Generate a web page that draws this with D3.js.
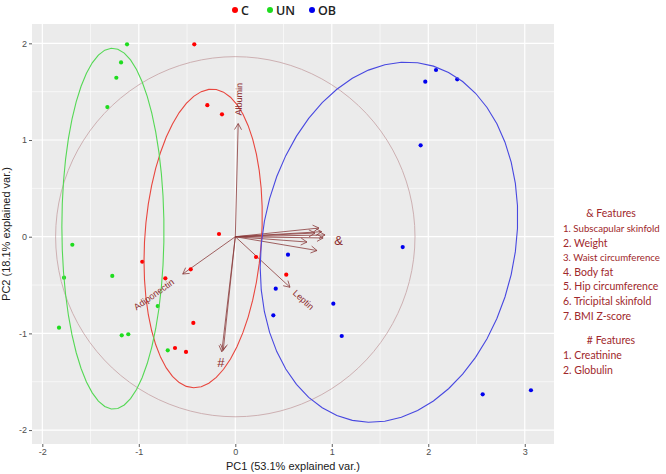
<!DOCTYPE html>
<html>
<head>
<meta charset="utf-8">
<script src="https://cdn.jsdelivr.net/npm/d3@7"></script>
<style>
  html, body { margin: 0; padding: 0; background: #ffffff; }
  svg { display: block; }
</style>
</head>
<body>
<svg id="chart" width="666" height="474"></svg>
<script>
// ---------------- data ----------------
const groups = ["C", "UN", "OB"];
const groupColors = ["#ff0000", "#1edc1e", "#0000ee"];
const ellipseColors = ["#e8463e", "#55d855", "#4848e0"];

const pc1C  = [-0.425, -0.29, -0.138, -0.169, -0.964, -0.725, -0.462, 0.215, -0.435, -0.625, -0.511, 0.528];
const pc2C  = [1.99, 1.36, 1.266, 0.028, -0.259, -0.43, -0.337, -0.21, -0.892, -1.151, -1.192, -0.393];
const pc1UN = [-1.122, -1.184, -1.233, -1.326, -1.689, -1.775, -1.275, -1.827, -1.177, -1.109, -0.804, -0.7];
const pc2UN = [1.99, 1.803, 1.644, 1.341, -0.083, -0.424, -0.406, -0.941, -1.02, -1.009, -0.717, -1.175];
const pc1OB = [2.08, 1.969, 2.30, 1.921, 1.735, 0.546, 0.419, 0.394, 1.016, 1.103, 2.564, 3.064];
const pc2OB = [1.724, 1.603, 1.628, 0.945, -0.107, -0.186, -0.538, -0.813, -0.693, -1.027, -1.63, -1.588];

// variable loadings (arrow tips)
const varNames = ["Albumin", "Adiponectin", "Leptin", "Creatinine", "Globulin",
  "Subscapular skinfold", "Weight", "Waist circumference", "Body fat",
  "Hip circumference", "Tricipital skinfold", "BMI Z-score"];
const varShowName = [true, true, true, false, false, false, false, false, false, false, false, false];
const loadX = [0.03, -0.545, 0.567, -0.14, -0.125, 0.895, 0.93, 0.91, 0.826, 0.743, 0.847, 0.867];
const loadY = [1.17, -0.386, -0.523, -1.19, -1.175, 0.052, 0.018, -0.013, 0.038, -0.055, -0.143, 0.09];

// group markers placed next to grouped arrows (data units)
const markText = ["&", "#"];
const markX = [1.07, -0.15];
const markY = [-0.04, -1.30];

const xTicks = [-2, -1, 0, 1, 2, 3];
const yTicks = [-2, -1, 0, 1, 2];
const xTitle = "PC1 (53.1% explained var.)";
const yTitle = "PC2 (18.1% explained var.)";

const featAmp = ["1. Subscapular skinfold", "2. Weight", "3. Waist circumference", "4. Body fat",
  "5. Hip circumference", "6. Tricipital skinfold", "7. BMI Z-score"];
const featHash = ["1. Creatinine", "2. Globulin"];

const ellipseProb = 0.68;
const circleProb = 0.69;

// ---------------- layout ----------------
const svg = d3.select("#chart");
const P = { left: 32, right: 554, top: 24, bottom: 444 };
const x = d3.scaleLinear().domain([-2.107, 3.303]).range([P.left, P.right]);
const y = d3.scaleLinear().domain([-2.144, 2.2]).range([P.bottom, P.top]);

const groupX = [pc1C, pc1UN, pc1OB];
const groupY = [pc2C, pc2UN, pc2OB];

// panel
svg.append("rect").attr("x", P.left).attr("y", P.top)
  .attr("width", P.right - P.left).attr("height", P.bottom - P.top).attr("fill", "#ebebeb");

svg.append("clipPath").attr("id", "clipP").append("rect")
  .attr("x", P.left).attr("y", P.top).attr("width", P.right - P.left).attr("height", P.bottom - P.top);

const grid = svg.append("g");
const xMinor = [-1.5, -0.5, 0.5, 1.5, 2.5];
const yMinor = [-1.5, -0.5, 0.5, 1.5];
xMinor.forEach(v => grid.append("line").attr("x1", x(v)).attr("x2", x(v)).attr("y1", P.top).attr("y2", P.bottom)
  .attr("stroke", "#fff").attr("stroke-width", 0.6));
yMinor.forEach(v => grid.append("line").attr("y1", y(v)).attr("y2", y(v)).attr("x1", P.left).attr("x2", P.right)
  .attr("stroke", "#fff").attr("stroke-width", 0.6));
xTicks.forEach(v => grid.append("line").attr("x1", x(v)).attr("x2", x(v)).attr("y1", P.top).attr("y2", P.bottom)
  .attr("stroke", "#fff").attr("stroke-width", 1.2));
yTicks.forEach(v => grid.append("line").attr("y1", y(v)).attr("y2", y(v)).attr("x1", P.left).attr("x2", P.right)
  .attr("stroke", "#fff").attr("stroke-width", 1.2));

// axes
const axisFont = "'Liberation Sans', Arial, sans-serif";
const xAxis = svg.append("g").attr("transform", `translate(0,${P.bottom})`)
  .call(d3.axisBottom(x).tickValues(xTicks).tickSize(3).tickPadding(2).tickFormat(d3.format("d")));
const yAxis = svg.append("g").attr("transform", `translate(${P.left},0)`)
  .call(d3.axisLeft(y).tickValues(yTicks).tickSize(3).tickPadding(2).tickFormat(d3.format("d")));
[xAxis, yAxis].forEach(a => {
  a.select(".domain").remove();
  a.selectAll(".tick line").attr("stroke", "#333").attr("stroke-width", 0.8);
  a.selectAll(".tick text").attr("fill", "#4d4d4d").style("font-family", axisFont).style("font-size", "9px")
    .text(d => d < 0 ? "-" + Math.abs(d) : d);
});

svg.append("text").attr("x", (P.left + P.right) / 2).attr("y", 470)
  .attr("text-anchor", "middle").style("font-family", axisFont).style("font-size", "11px")
  .attr("fill", "#1a1a1a").text(xTitle);
svg.append("text").attr("transform", `translate(10,${(P.top + P.bottom) / 2}) rotate(-90)`)
  .attr("text-anchor", "middle").style("font-family", axisFont).style("font-size", "11px")
  .attr("fill", "#1a1a1a").text(yTitle);

const plot = svg.append("g").attr("clip-path", "url(#clipP)");

// correlation circle (ggbiplot style)
const allX = [].concat(...groupX), allY = [].concat(...groupY);
const r = Math.sqrt(-2 * Math.log(1 - circleProb)) *
  Math.pow(d3.mean(allX, v => v * v) * d3.mean(allY, v => v * v), 0.25);
const thetaC = d3.range(0, 101).map(i => -Math.PI + 2 * Math.PI * i / 100);
const line = d3.line().x(d => x(d[0])).y(d => y(d[1]));
plot.append("path").datum(thetaC.map(t => [r * Math.cos(t), r * Math.sin(t)]))
  .attr("d", line).attr("fill", "none").attr("stroke", "#cdb0b2").attr("stroke-width", 1);

// arrows
const arrowCol = "#8b3c3c";
const ox = x(0), oy = y(0);
loadX.forEach((lx, i) => {
  const ex = x(lx), ey = y(loadY[i]);
  plot.append("line").attr("x1", ox).attr("y1", oy).attr("x2", ex).attr("y2", ey)
    .attr("stroke", arrowCol).attr("stroke-width", 1).attr("stroke-opacity", 0.8);
  const ang = Math.atan2(ey - oy, ex - ox);
  const hl = 7, ha = Math.PI / 6;
  const p1 = [ex - hl * Math.cos(ang - ha), ey - hl * Math.sin(ang - ha)];
  const p2 = [ex - hl * Math.cos(ang + ha), ey - hl * Math.sin(ang + ha)];
  plot.append("path").attr("d", `M${p1[0]},${p1[1]}L${ex},${ey}L${p2[0]},${p2[1]}`)
    .attr("fill", "none").attr("stroke", arrowCol).attr("stroke-width", 1).attr("stroke-opacity", 0.8);
});

// points
groups.forEach((g, gi) => {
  plot.selectAll(null).data(groupX[gi].map((v, k) => [v, groupY[gi][k]])).enter()
    .append("circle").attr("cx", d => x(d[0])).attr("cy", d => y(d[1])).attr("r", 2.1)
    .attr("fill", groupColors[gi]);
});

// ellipses (normal data ellipse, ggbiplot style)
const ed = Math.sqrt(-2 * Math.log(1 - ellipseProb));
const thetaE = d3.range(0, 50).map(i => -Math.PI + 2 * Math.PI * i / 49);
groups.forEach((g, gi) => {
  const xs = groupX[gi], ys = groupY[gi];
  const mx = d3.mean(xs), my = d3.mean(ys);
  const n = xs.length;
  const s11 = d3.sum(xs, v => (v - mx) ** 2) / (n - 1);
  const s22 = d3.sum(ys, v => (v - my) ** 2) / (n - 1);
  const s12 = d3.sum(xs.map((v, k) => (v - mx) * (ys[k] - my))) / (n - 1);
  const a = Math.sqrt(s11), b = s12 / a, c = Math.sqrt(s22 - b * b);
  const pts = thetaE.map(t => [Math.cos(t) * a * ed + mx, (Math.cos(t) * b + Math.sin(t) * c) * ed + my]);
  plot.append("path").datum(pts).attr("d", line).attr("fill", "none")
    .attr("stroke", ellipseColors[gi]).attr("stroke-width", 1.1);
});

// variable names (ggbiplot placement)
const labCol = "#8b2a2a";
loadX.forEach((lx, i) => {
  if (!varShowName[i]) return;
  const ly = loadY[i];
  const ang = Math.atan(ly / lx) * 180 / Math.PI;
  const hjust = (1 - 1.5 * Math.sign(lx)) / 2;
  const t = plot.append("text").attr("transform", `translate(${x(lx)},${y(ly)}) rotate(${-ang})`)
    .attr("dy", "0.35em").style("font-family", axisFont).style("font-size", "9px")
    .attr("fill", labCol).text(varNames[i]);
  const w = t.node().getComputedTextLength();
  t.attr("x", -hjust * w);
});

markText.forEach((m, i) => {
  plot.append("text").attr("x", x(markX[i])).attr("y", y(markY[i])).attr("dy", "0.35em")
    .attr("text-anchor", "middle").style("font-family", axisFont).style("font-size", "13px")
    .attr("fill", labCol).text(m);
});

// legend (top)
const legFont = "'Open Sans', 'Liberation Sans', sans-serif";
const legX = [235, 270, 312];
groups.forEach((g, gi) => {
  svg.append("circle").attr("cx", legX[gi]).attr("cy", 10).attr("r", 3).attr("fill", groupColors[gi]);
  svg.append("text").attr("x", legX[gi] + 6).attr("y", 10).attr("dy", "0.36em")
    .style("font-family", legFont).style("font-size", "12.5px").style("font-weight", 600)
    .attr("fill", "#222").text(g);
});

// right annotation
const noteFont = "Lato, 'Open Sans', sans-serif";
const noteCol = "#a0282b";
const maxW = 97;
const baseSize = 10.5;
const notes = svg.append("g").style("font-family", noteFont).attr("fill", noteCol);
function addNote(xp, yp, txt, anchor) {
  const t = notes.append("text").attr("x", xp).attr("y", yp).attr("text-anchor", anchor)
    .style("font-size", baseSize + "px").text(txt);
  const w = t.node().getComputedTextLength();
  if (w > maxW) t.style("font-size", (baseSize * maxW / w).toFixed(2) + "px");
}
addNote(611, 217, "& Features", "middle");
featAmp.forEach((f, i) => addNote(563, 232 + i * 14.6, f, "start"));
addNote(611, 344, "# Features", "middle");
featHash.forEach((f, i) => addNote(563, 359 + i * 14.8, f, "start"));
</script>
</body>
</html>
